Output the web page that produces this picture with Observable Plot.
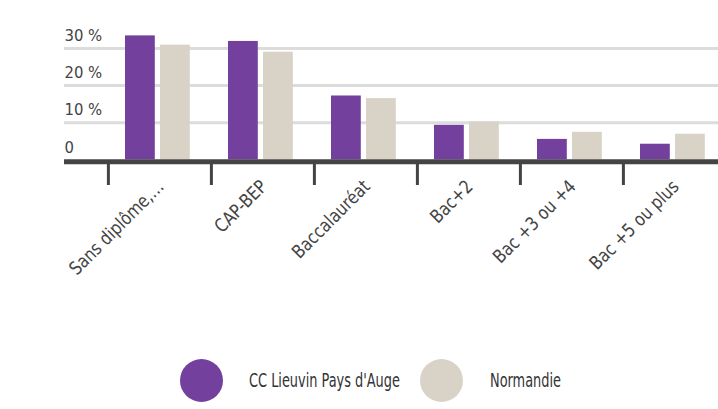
<!DOCTYPE html>
<html>
<head>
<meta charset="utf-8">
<script src="https://cdn.jsdelivr.net/npm/d3@7"></script>
<script src="https://cdn.jsdelivr.net/npm/@observablehq/plot@0.6"></script>
<style>
  html, body { margin: 0; padding: 0; background: #fff; }
  #wrap { position: relative; width: 718px; height: 409px; overflow: hidden;
          font-family: "Liberation Sans Narrow", "DejaVu Sans Condensed", "Roboto", sans-serif; }
  #legend { position: absolute; left: 0; top: 359px; width: 718px; height: 44px; }
  .sw { position: absolute; width: 43px; height: 43px; border-radius: 50%; top: 0; }
  .lab { position: absolute; top: 9px; font-size: 19px; color: #333; line-height: 24px; white-space: nowrap;
         transform: scaleX(0.755); transform-origin: 0 50%; }
</style>
</head>
<body>
<div id="wrap">
  <div id="chart"></div>
  <div id="legend"></div>
</div>
<script>
const categories = ["Sans diplôme,…", "CAP-BEP", "Baccalauréat", "Bac+2", "Bac +3 ou +4", "Bac +5 ou plus"];
const seriesNames = ["CC Lieuvin Pays d'Auge", "Normandie"];
const ccValues = [33.4, 31.9, 17.2, 9.3, 5.5, 4.2];
const normandieValues = [30.9, 29.0, 16.5, 10.2, 7.4, 6.9];
const yTicks = [0, 10, 20, 30];
const yTickLabels = ["0", "10 %", "20 %", "30 %"];
const colors = ["#73409e", "#d9d3c7"];

const ccData = categories.map((c, i) => ({cat: c, value: ccValues[i]}));
const normData = categories.map((c, i) => ({cat: c, value: normandieValues[i]}));
const yTickData = yTicks.map((v, i) => ({v, label: yTickLabels[i]}));

const font = "'Liberation Sans Narrow', 'DejaVu Sans Condensed', Roboto, sans-serif";
const step = 103.2;

const chart = Plot.plot({
  width: 718,
  height: 345,
  marginLeft: 64,
  marginRight: 0,
  marginTop: 48,
  marginBottom: 345 - 159.3,
  style: {fontFamily: font, background: "transparent", overflow: "visible"},
  x: {type: "band", domain: categories, range: [107, 107 + 6 * step], padding: 0, axis: null},
  y: {domain: [0, 30], axis: null},
  marks: [
    Plot.ruleY([10, 20, 30], {stroke: "#dcdcdc", strokeWidth: 3}),
    Plot.barY(ccData, {x: "cat", y: "value", fill: colors[0], insetLeft: 17, insetRight: step - 47}),
    Plot.barY(normData, {x: "cat", y: "value", fill: colors[1], insetLeft: 52, insetRight: step - 82}),
    Plot.ruleY([0], {stroke: "#444", strokeWidth: 5, dy: 2}),
    Plot.ruleX(categories, {x: d => d, stroke: "#444", strokeWidth: 3, dx: -step / 2, insetTop: 111.3 - 21, dy: 25.7}),
    Plot.text(yTickData, {y: "v", text: "label", frameAnchor: "left", textAnchor: "start", fontSize: 16.5, fill: "#444", dy: -12.5}),
    Plot.text(categories, {x: d => d, text: d => d, frameAnchor: "bottom", textAnchor: "end", rotate: -45, fontSize: 18.5, fill: "#444", dx: 5, dy: 28, className: "xlab"})
  ]
});

function squeeze(root, sel, s) {
  root.querySelectorAll(sel + " text").forEach(t => {
    const tr = t.getAttribute("transform");
    if (tr) t.setAttribute("transform", `${tr} scale(${s},1)`);
  });
}
squeeze(chart, ".xlab", 0.93);
document.getElementById("chart").appendChild(chart);

const legend = document.getElementById("legend");
const swX = [180, 420];
const labX = [249, 490];
seriesNames.forEach((name, i) => {
  const sw = document.createElement("div");
  sw.className = "sw";
  sw.style.left = swX[i] + "px";
  sw.style.background = colors[i];
  legend.appendChild(sw);
  const lab = document.createElement("div");
  lab.className = "lab";
  lab.style.left = labX[i] + "px";
  lab.textContent = name;
  legend.appendChild(lab);
});
</script>
</body>
</html>
